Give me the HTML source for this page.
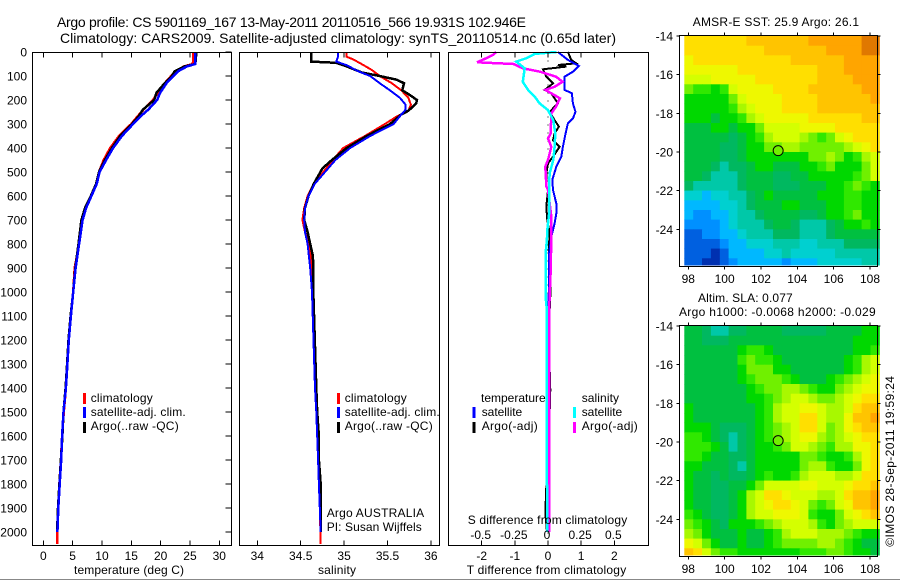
<!DOCTYPE html>
<html>
<head>
<meta charset="utf-8">
<title>Argo profile</title>
<style>
html,body{margin:0;padding:0;background:#fff}
svg{display:block}
text{font-family:"Liberation Sans",sans-serif;font-size:12px;fill:#000}
</style>
</head>
<body>
<svg id="chart" width="900" height="580" viewBox="0 0 900 580" xmlns="http://www.w3.org/2000/svg">
<rect x="0" y="0" width="900" height="580" fill="#fff"/>
<text x="57" y="27" textLength="469" style="font-size:14px">Argo profile: CS 5901169_167 13-May-2011 20110516_566 19.931S 102.946E</text>
<text x="60" y="43" textLength="556" style="font-size:14px">Climatology: CARS2009. Satellite-adjusted climatology: synTS_20110514.nc (0.65d later)</text>
<g id="plot-layer"></g>
<g id="axes-layer"></g>

<text x="74" y="574" textLength="110">temperature (deg C)</text>
<text x="318" y="574" textLength="38">salinity</text>
<text x="466.7" y="574" textLength="159.5">T difference from climatology</text>
<text x="467.7" y="524" textLength="159.5">S difference from climatology</text>

<g>
<rect x="83" y="393" width="3" height="11" fill="#f00"/>
<rect x="83" y="407" width="3" height="11" fill="#00f"/>
<rect x="83" y="422" width="3" height="11" fill="#000"/>
<text x="90.7" y="402" textLength="62">climatology</text>
<text x="90.7" y="416" textLength="95">satellite-adj. clim.</text>
<text x="90.7" y="430" textLength="88">Argo(..raw -QC)</text>
</g>
<g>
<rect x="337" y="393" width="3" height="11" fill="#f00"/>
<rect x="337" y="407" width="3" height="11" fill="#00f"/>
<rect x="337" y="422" width="3" height="11" fill="#000"/>
<text x="344.7" y="402" textLength="62">climatology</text>
<text x="344.7" y="416" textLength="95">satellite-adj. clim.</text>
<text x="344.7" y="430" textLength="88">Argo(..raw -QC)</text>
</g>
<g>
<text x="481" y="402" textLength="64.7">temperature</text>
<text x="581.7" y="402" textLength="37.3">salinity</text>
<rect x="472.5" y="407" width="3" height="11" fill="#00f"/>
<rect x="472.5" y="422" width="3" height="11" fill="#000"/>
<text x="481.7" y="416" textLength="40.5">satellite</text>
<text x="481.7" y="430" textLength="56">Argo(-adj)</text>
<rect x="573" y="407" width="3" height="11" fill="#0ff"/>
<rect x="573" y="422" width="3" height="11" fill="#f0f"/>
<text x="581.7" y="416" textLength="40.5">satellite</text>
<text x="581.7" y="430" textLength="56">Argo(-adj)</text>
</g>
<text x="326.7" y="517" textLength="97.5">Argo AUSTRALIA</text>
<text x="326.7" y="531" textLength="95">PI: Susan Wijffels</text>

<text x="692.7" y="26" textLength="166.3">AMSR-E SST: 25.9  Argo: 26.1</text>
<text x="698" y="302" textLength="94.7">Altim. SLA: 0.077</text>
<text x="679" y="316" textLength="196.7">Argo h1000: -0.0068 h2000: -0.029</text>
<text transform="translate(894 546.7) rotate(-90)" x="0" y="0" textLength="170.7">©IMOS 28-Sep-2011 19:59:24</text>
<line x1="0" y1="579.5" x2="900" y2="579.5" stroke="#888" stroke-width="1"/>
</svg>

<script>
// ---------- depth axis ----------
const depthTicks = [0,100,200,300,400,500,600,700,800,900,1000,1100,1200,1300,1400,1500,1600,1700,1800,1900,2000];

// ---------- temperature panel ----------
const tempTicks = [0,5,10,15,20,25,30];
const tempDepths = [0,50,60,80,100,130,170,200,240,270,300,350,400,450,500,550,600,650,700,800,900,1000,1100,1200,1300,1400,1500,1600,1700,1800,1900,2000];
const tempClim = [25.6,25.5,24.0,22.6,21.8,20.7,19.5,18.7,17.1,16.0,15.0,12.9,11.4,10.3,9.5,9.0,8.15,7.2,6.6,6.1,5.35,5.1,4.65,4.3,4.05,3.85,3.5,3.2,3.0,2.75,2.5,2.4];
const tempArgo = [26.1,25.9,24.1,22.4,21.9,20.7,19.3,18.9,17.0,16.2,15.1,13.1,11.7,10.5,9.5,9.0,8.1,7.1,6.5,6.0,5.45,5.1,4.65,4.3,4.05,3.8,3.45,3.25,3.0,2.75,2.5,2.35];
const tempSat = [25.9,25.9,24.5,23.0,22.2,21.0,19.9,19.4,17.9,16.5,15.3,13.4,11.9,10.7,9.6,9.1,8.2,7.3,6.7,6.1,5.5,5.1,4.7,4.35,4.1,3.85,3.45,3.2,3.05,2.8,2.55,2.4];
const tempClimBottomDepth = 2050;
const tempClimBottomValue = 2.35;

// ---------- salinity panel ----------
const salTicks = [34,34.5,35,35.5,36];
const salClimDepths = [0,20,30,50,75,100,130,160,190,220,245,270,300,350,400,450,500,550,600,650,700,750,800,900,1000,1400,1500,1600,2050];
const salClim = [35.03,35.03,35.1,35.2,35.32,35.41,35.55,35.66,35.74,35.77,35.74,35.6,35.47,35.24,34.99,34.87,34.76,34.65,34.58,34.54,34.52,34.55,34.6,34.63,34.64,34.68,34.685,34.70,34.73];
const salArgoDepths = [0,40,45,60,85,100,115,130,160,175,200,215,245,260,300,350,400,450,485,550,600,650,700,750,800,850,900,1000,1400,1500,1600,1700,1800,1900,2000];
const salArgo = [34.62,34.62,34.91,35.03,35.2,35.41,35.6,35.69,35.67,35.74,35.84,35.83,35.74,35.66,35.53,35.26,35.03,34.86,34.75,34.65,34.59,34.55,34.54,34.58,34.61,34.64,34.645,34.645,34.68,34.69,34.71,34.71,34.73,34.73,34.73];
const salSatDepths = [0,20,40,55,80,100,130,160,190,220,240,260,300,350,400,450,500,550,600,650,700,750,800,900,1000,1400,1500,1600,1700,1800,1900,2000];
const salSat = [34.93,34.93,34.91,35.03,35.16,35.3,35.41,35.53,35.64,35.71,35.71,35.66,35.57,35.3,35.07,34.9,34.78,34.66,34.59,34.55,34.54,34.55,34.58,34.61,34.63,34.665,34.68,34.69,34.7,34.71,34.72,34.73];

// ---------- difference panel ----------
const tDiffTicks = [-2,-1,0,1,2];
const sDiffTicks = [-0.5,-0.25,0,0.25,0.5];
const tDiffArgoDepths = [0,33,47,54,61,72,103,131,158,172,214,249,284,311,339,367,395,436,464,506,561,575,645,700,756,825,978,1075,1159,1325,1408,1600,1812,1920,2000];
const tDiffArgo = [0.6,0.7,0.85,0.3,0.55,-0.15,-0.05,0.15,-0.1,0.1,0.3,0.05,0.2,0.33,0.2,0.15,0.35,0.15,0,-0.05,-0.05,0,-0.05,-0.02,0.05,0.02,0.08,0.05,0.05,0.05,0.07,0.03,-0.05,-0.08,-0.03];
const tDiffSatDepths = [0,33,58,82,103,158,172,214,249,277,297,339,395,436,478,533,575,631,673,714,770,839,1048,1325,1450,1700,2000];
const tDiffSat = [0.3,0.6,0.93,0.75,0.5,0.5,0.72,0.75,0.83,0.75,0.6,0.53,0.45,0.4,0.25,0.13,0.15,0.25,0.25,0.2,0.1,0.03,0.02,0.03,0.05,0.05,0.02];
const sDiffSatDepths = [0,8,26,40,68,124,158,186,214,242,284,339,395,450,506,575,673,742,784,839,1020,1075,1325,1600,2000];
const sDiffSat = [0.063,-0.1,-0.163,-0.24,-0.176,-0.19,-0.15,-0.1,-0.063,0,0.04,0.055,0.05,0.04,0.012,0.008,0.008,-0.005,-0.008,-0.018,-0.018,-0.008,-0.008,-0.01,-0.005];
const sDiffArgoDepths = [0,12,26,43,50,68,82,103,124,145,158,172,193,228,256,339,360,395,450,478,561,575,686,770,909,1020,1117,2000];
const sDiffArgo = [-0.39,-0.415,-0.465,-0.535,-0.26,-0.19,-0.06,0.06,0.11,0.05,-0.02,0.025,0.09,0.06,0.025,0.02,0,0.025,0,-0.02,-0.012,0,0.025,0.025,0.02,0.012,0.008,0.008];

// ---------- maps ----------
const lonTicks = [98,100,102,104,106,108];
const latTicks = [-14,-16,-18,-20,-22,-24];
const floatLon = 102.946;
const floatLat = -19.931;
const colourLevels = ["#0030b0","#0060e0","#0090ff","#00b8ff","#00d0d0","#00c8a8","#00b860","#00c040","#00d800","#30e800","#70f000","#a8f800","#d4ff00","#eef800","#ffdf00","#ffc400","#ffa500","#e07800"];
const sstGrid = [
[14,14,14,14,14,14,14,15,15,15,15,15,15,15,16,16,16,16,16,16,17,17],
[14,14,14,14,14,14,14,14,14,15,15,15,15,15,15,15,16,16,16,16,17,17],
[13,14,14,14,14,14,14,14,14,14,14,14,15,15,15,15,15,15,16,16,16,16],
[13,13,13,13,13,13,14,14,14,14,14,14,14,14,14,15,15,15,16,16,16,16],
[12,12,12,13,13,13,13,13,14,14,14,14,14,14,14,15,15,15,15,16,16,16],
[10,9,9,8,9,12,13,13,13,13,14,14,14,14,15,15,15,15,15,15,16,16],
[8,8,8,8,8,10,12,13,13,13,13,14,14,14,14,15,15,15,15,15,15,16],
[8,8,8,8,8,9,11,12,13,13,13,14,14,14,14,15,15,15,15,15,15,15],
[8,8,8,7,8,8,9,11,12,13,13,13,13,13,14,14,14,14,14,14,15,15],
[7,7,7,8,8,7,8,8,10,12,12,12,12,13,13,13,13,14,14,14,14,14],
[7,7,7,7,7,6,7,8,9,11,12,12,12,11,10,9,10,12,13,14,14,14],
[7,7,7,7,6,6,7,8,8,10,10,11,11,10,10,10,10,10,11,12,13,14],
[7,7,7,7,6,6,7,8,8,8,8,8,8,8,10,10,11,10,8,9,11,12],
[7,7,7,6,5,6,6,7,8,8,7,7,7,8,8,9,10,8,8,8,10,12],
[7,7,6,5,5,5,6,7,7,7,6,6,7,7,8,8,8,8,8,9,10,12],
[6,5,5,5,5,5,6,7,7,7,6,6,6,7,7,7,8,8,9,10,9,8],
[4,4,3,4,4,5,5,6,7,8,7,7,7,7,7,8,8,8,9,9,8,8],
[3,3,3,3,4,4,5,6,7,7,7,8,8,7,7,7,8,8,9,9,8,8],
[3,2,2,3,3,4,5,5,6,7,7,7,7,6,6,7,8,8,9,10,8,8],
[2,2,2,2,3,4,5,5,5,6,7,7,6,5,5,5,6,7,8,8,9,8],
[1,1,2,2,3,3,4,5,5,5,6,6,6,5,5,5,6,7,7,7,7,7],
[1,1,1,1,2,3,3,4,4,4,5,5,5,4,4,5,5,5,6,6,6,6],
[1,1,1,0,1,3,3,3,3,4,4,5,4,4,4,4,4,5,5,5,5,5],
[1,1,0,0,1,2,3,3,3,3,3,2,3,3,3,4,4,4,4,4,5,5]
];
const slaGrid = [
[7,7,6,5,5,6,6,7,7,7,7,6,6,6,6,6,7,7,7,7,8,8],
[7,7,6,6,6,7,7,7,7,7,7,7,7,7,7,7,7,7,7,8,8,8],
[7,7,7,7,7,7,8,9,9,8,7,7,7,7,7,7,7,7,7,8,8,9],
[7,7,7,7,7,7,9,10,9,9,8,7,7,7,7,7,7,7,8,9,11,12],
[7,7,7,7,7,7,8,10,10,10,8,8,7,7,7,7,7,7,8,9,11,12],
[7,7,7,7,7,7,8,9,10,10,10,9,8,7,7,7,8,9,10,11,12,13],
[7,7,7,7,7,7,7,8,9,10,10,11,11,10,9,8,8,10,11,12,13,13],
[7,7,7,7,7,7,7,8,8,9,10,11,12,12,11,10,10,11,12,13,14,14],
[8,7,7,7,7,7,7,7,8,9,11,12,12,13,13,12,11,11,12,14,15,15],
[8,7,7,7,7,7,7,7,8,9,11,12,12,14,14,12,11,11,13,15,15,16],
[8,8,8,7,6,6,6,7,8,9,10,11,12,14,14,12,10,11,13,14,15,15],
[9,9,8,7,6,5,6,7,8,9,10,11,12,13,13,11,10,11,12,13,14,14],
[9,9,9,8,7,5,6,7,8,8,9,10,12,12,11,10,9,11,11,13,13,14],
[9,9,8,7,7,6,6,7,8,8,8,8,8,10,10,9,8,8,9,11,13,14],
[8,8,7,7,7,6,5,7,8,8,8,8,8,10,11,11,9,8,8,10,13,14],
[8,7,7,6,7,6,6,7,8,9,8,8,9,11,12,12,12,11,11,12,14,14],
[8,7,7,6,6,7,7,8,10,12,12,12,12,13,13,12,12,12,13,14,14,15],
[8,7,7,6,6,7,8,11,12,14,14,13,12,12,12,11,11,12,14,15,15,16],
[8,7,7,6,6,7,8,11,12,13,14,14,13,12,10,9,10,12,13,15,15,16],
[9,8,7,6,6,7,8,11,12,12,13,13,13,12,9,8,8,10,12,13,14,15],
[10,9,8,7,6,8,8,8,9,10,11,12,12,12,11,9,8,10,11,12,12,12],
[11,10,8,7,7,7,8,7,7,8,9,11,12,12,12,11,11,11,10,9,8,8],
[13,12,10,8,7,7,8,7,7,8,9,10,10,10,10,11,11,10,9,8,7,7],
[15,14,12,10,9,9,8,8,8,8,8,8,8,9,9,9,10,10,9,8,8,7]
];

// ---------- axis functions ----------
const yD = d => 52 + d * 0.24;
const xT = v => 43.3 + v * 5.867;
const xS = v => 257.3 + (v - 34) * 86.8;
const xDT = v => 548 + v * 33.15;
const xDS = v => 548 + v * 132.6;
const xLon = lon => 688.3 + (lon - 98) * 18.17;
const yLat1 = lat => 36 + (-14 - lat) * 19.33;
const yLat2 = lat => 326 + (-14 - lat) * 19.33;

const SVG_NS = "http://www.w3.org/2000/svg";
const plotLayer = document.getElementById("plot-layer");
const axesLayer = document.getElementById("axes-layer");

function make(tag, parent, attrs, content) {
  const el = document.createElementNS(SVG_NS, tag);
  for (const k in attrs) el.setAttribute(k, attrs[k]);
  if (content !== undefined) el.textContent = content;
  parent.appendChild(el);
  return el;
}

function drawFrame(x0, y0, x1, y1) {
  const el = make("rect", axesLayer, {x:x0, y:y0, width:x1-x0, height:y1-y0, fill:"none", stroke:"#000", "stroke-width":1, "shape-rendering":"crispEdges"});
  
  
}
function drawTick(x1, y1, x2, y2) {
  const el = make("line", axesLayer, {x1, y1, x2, y2, stroke:"#000", "stroke-width":1, "shape-rendering":"crispEdges"});
  
  
}
function drawLabel(x, y, anchor, str) {
  const el = make("text", axesLayer, {x, y, "text-anchor":anchor}, str);
  
  
}
function drawSeries(depths, values, xFn, colour, width) {
  const pts = depths.map((d, i) => xFn(values[i]).toFixed(1) + "," + yD(d).toFixed(1)).join(" ");
  const el = make("polyline", plotLayer, {points:pts, fill:"none", stroke:colour, "stroke-width":width, "stroke-linejoin":"miter", "shape-rendering":"crispEdges"});
  
  
}
function drawHeatmap(grid, yFn, lonStart, lonStep, latStep) {
  grid.forEach((row, r) => row.forEach((v, c) => {
    const x0 = xLon(lonStart + c * lonStep), x1 = xLon(lonStart + (c + 1) * lonStep);
    const y0 = yFn(-14 - r * latStep), y1 = yFn(-14 - (r + 1) * latStep);
    const el = make("rect", plotLayer, {x:x0.toFixed(1), y:y0.toFixed(1), width:(x1-x0+0.4).toFixed(1), height:(Math.min(y1, yFn(-25.85))-y0+0.4).toFixed(1), fill:colourLevels[v]});
    
    
  }));
}
function drawMarker(yFn, grid, lonStart, lonStep, latStep) {
  const c = Math.floor((floatLon - lonStart) / lonStep), r = Math.floor((-14 - floatLat) / latStep);
  const el = make("circle", plotLayer, {cx:xLon(floatLon), cy:yFn(floatLat), r:5, fill:colourLevels[grid[r][c]], stroke:"#000", "stroke-width":1});
  
  
}

// ---------- profile frames and ticks ----------
const panelBoxes = [[32.5,231.5],[239.5,439.5],[448.5,648.5]];
const boxTop = 52.5, boxBottom = 545.5;
panelBoxes.forEach(b => drawFrame(b[0], boxTop, b[1], boxBottom));

depthTicks.forEach(d => {
  drawTick(231.5, yD(d), 225.5, yD(d));
  drawLabel(27, yD(d) + 4.5, "end", String(d));
});
tempTicks.forEach(v => {
  drawTick(xT(v), boxTop, xT(v), boxTop + 5);
  drawTick(xT(v), boxBottom, xT(v), boxBottom - 5);
  drawLabel(xT(v), 560, "middle", String(v));
});
salTicks.forEach(v => {
  drawTick(xS(v), boxTop, xS(v), boxTop + 5);
  drawTick(xS(v), boxBottom, xS(v), boxBottom - 5);
  drawLabel(xS(v), 560, "middle", String(v));
});
tDiffTicks.forEach(v => {
  drawTick(xDT(v), boxTop, xDT(v), boxTop + 5);
  drawTick(xDT(v), boxBottom, xDT(v), boxBottom - 5);
  drawLabel(xDT(v), 560, "middle", String(v));
});
sDiffTicks.forEach(v => {
  drawLabel(xDS(v) - 1, 539, "middle", String(v));
});

// ---------- profile series ----------
drawSeries(tempDepths.concat([tempClimBottomDepth]), tempClim.concat([tempClimBottomValue]), xT, "#f00", 2.5);
drawSeries(tempDepths, tempArgo, xT, "#000", 2.5);
drawSeries(tempDepths, tempSat, xT, "#00f", 2.5);

drawSeries(salClimDepths, salClim, xS, "#f00", 2);
drawSeries(salArgoDepths, salArgo, xS, "#000", 2.5);
drawSeries(salSatDepths, salSat, xS, "#00f", 2);

const zeroLine = make("line", plotLayer, {x1:xDT(0), y1:boxTop, x2:xDT(0), y2:boxBottom, stroke:"#000", "stroke-width":1, "stroke-dasharray":"1 7", "shape-rendering":"crispEdges"});



drawSeries(tDiffArgoDepths, tDiffArgo, xDT, "#000", 2);
drawSeries(tDiffSatDepths, tDiffSat, xDT, "#00f", 2);
drawSeries(sDiffArgoDepths, sDiffArgo, xDS, "#f0f", 2.5);
drawSeries(sDiffSatDepths, sDiffSat, xDS, "#0ff", 2.5);

// ---------- maps ----------
const mapLonStart = 97.78, mapLonStep = 0.488, mapLatStep = 0.5;
drawHeatmap(sstGrid, yLat1, mapLonStart, mapLonStep, mapLatStep);
drawHeatmap(slaGrid, yLat2, mapLonStart, mapLonStep, mapLatStep);
drawMarker(yLat1, sstGrid, mapLonStart, mapLonStep, mapLatStep);
drawMarker(yLat2, slaGrid, mapLonStart, mapLonStep, mapLatStep);

[[35.5,266.5,yLat1,283],[325.5,556.5,yLat2,573]].forEach(m => {
  drawFrame(679.5, m[0], 877.5, m[1]);
  lonTicks.forEach(lon => {
    drawTick(xLon(lon), m[0], xLon(lon), m[0] - 3);
    drawTick(xLon(lon), m[1], xLon(lon), m[1] + 3);
    drawLabel(xLon(lon), m[3], "middle", String(lon));
  });
  latTicks.forEach(lat => {
    drawTick(679.5, m[2](lat), 676.5, m[2](lat));
    drawTick(877.5, m[2](lat), 880.5, m[2](lat));
    drawLabel(673, m[2](lat) + 4.5, "end", String(lat));
  });
});
</script>
</body>
</html>
